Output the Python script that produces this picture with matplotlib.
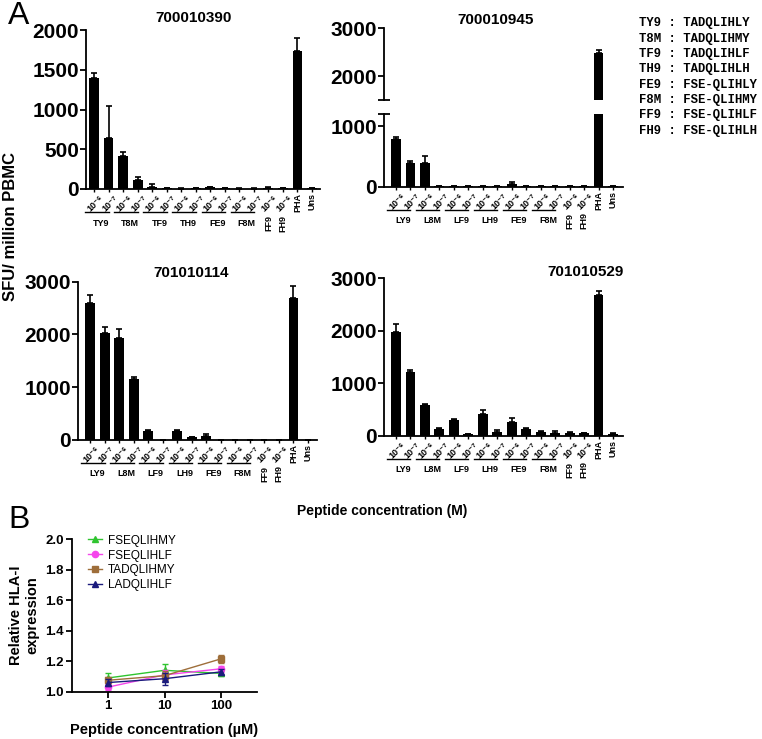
import numpy as np
import matplotlib.pyplot as plt
from matplotlib import transforms

plt.rcParams['font.family'] = ['Liberation Sans', 'DejaVu Sans']
plt.rcParams['font.weight'] = 'bold'
plt.rcParams['axes.labelweight'] = 'bold'

W, H = 762, 739

# etiquetas
conc = ['10⁻⁶', '10⁻⁷']
grupos_t = ['TY9', 'T8M', 'TF9', 'TH9', 'FE9', 'F8M']
grupos_l = ['LY9', 'L8M', 'LF9', 'LH9', 'FE9', 'F8M']
simples = ['FF9', 'FH9']
controles = ['PHA', 'Uns']

# SFU / million PBMC (16 barras: 6 pares, FF9, FH9, PHA, Uns)
p390 = [1390, 645, 420, 110, 25, 10, 5, 10, 20, 10, 5, 5, 15, 10, 1730, 10]
p390_err = [65, 400, 45, 45, 35, 5, 5, 8, 10, 5, 5, 5, 10, 5, 165, 5]
p945 = [785, 395, 395, 10, 10, 5, 10, 10, 40, 10, 5, 5, 5, 10, 2480, 5]
p945_err = [35, 25, 110, 5, 5, 3, 5, 5, 40, 5, 3, 3, 3, 5, 60, 3]
p114 = [2590, 2020, 1930, 1150, 165, 5, 170, 50, 70, 3, 3, 3, 3, 5, 2700, 3]
p114_err = [160, 130, 180, 45, 18, 3, 18, 5, 38, 2, 2, 2, 2, 3, 225, 2]
p529 = [1970, 1210, 590, 120, 305, 25, 413, 70, 254, 133, 70, 57, 51, 45, 2683, 32]
p529_err = [160, 45, 20, 32, 13, 5, 70, 32, 76, 13, 13, 26, 13, 12, 82, 13]

# clave de peptidos
codigos = ['TY9', 'T8M', 'TF9', 'TH9', 'FE9', 'F8M', 'FF9', 'FH9']
secuencias = ['TADQLIHLY', 'TADQLIHMY', 'TADQLIHLF', 'TADQLIHLH',
              'FSE-QLIHLY', 'FSE-QLIHMY', 'FSE-QLIHLF', 'FSE-QLIHLH']

# panel B
dosis = [1, 10, 100]
nombres_b = ['FSEQLIHMY', 'FSEQLIHLF', 'TADQLIHMY', 'LADQLIHLF']
hla = [[1.09, 1.14, 1.12],
       [1.03, 1.11, 1.15],
       [1.075, 1.105, 1.215],
       [1.06, 1.085, 1.13]]
hla_err = [[0.03, 0.04, 0.015],
           [0.02, 0.03, 0.02],
           [0.02, 0.03, 0.025],
           [0.02, 0.04, 0.02]]
colores_b = ['#2fc42f', '#f545ec', '#9e6e3a', '#1b1b7d']
marcas_b = ['^', 'o', 's', '^']

fig = plt.figure(figsize=(W / 100, H / 100), dpi=100)


def px_axes(left, right, top, bottom):
    return fig.add_axes([left / W, 1 - bottom / H, (right - left) / W, (bottom - top) / H])


def estilo(ax, ysize=15):
    for s in ['top', 'right']:
        ax.spines[s].set_visible(False)
    for s in ['left', 'bottom']:
        ax.spines[s].set_linewidth(1.3)
    ax.tick_params(axis='y', length=4, width=1.3, labelsize=ysize, pad=1)
    ax.tick_params(axis='x', length=2.5, width=1.0, labelbottom=False)


def barras(ax, vals, errs, xlim):
    x = np.arange(len(vals))
    ax.bar(x, vals, width=0.68, color='black')
    ax.errorbar(x, vals, yerr=[np.zeros(len(vals)), errs], fmt='none', ecolor='black',
                elinewidth=1.2, capsize=2.3, capthick=1.2)
    ax.set_xlim(*xlim)
    ax.set_xticks(x)


def etiquetas(ax, grupos):
    def tr(dx, dy):
        return transforms.offset_copy(ax.get_xaxis_transform(), fig=fig, x=dx, y=dy, units='dots')
    k = 0
    for g in grupos:
        for j in range(2):
            ax.text(k + j, 0, conc[j], transform=tr(5, -5), rotation=45, ha='right', va='top',
                    rotation_mode='anchor', fontsize=6.5)
        ax.plot([k - 0.6, k + 1.0], [0, 0], color='black', lw=1.0, clip_on=False, transform=tr(0, -23))
        ax.text(k + 0.5, 0, g, transform=tr(0, -34), ha='center', va='center', fontsize=6.5)
        k += 2
    for g in simples:
        ax.text(k, 0, conc[0], transform=tr(5, -5), rotation=45, ha='right', va='top',
                rotation_mode='anchor', fontsize=6.5)
        ax.text(k, 0, g, transform=tr(0, -34), rotation=90, ha='center', va='center', fontsize=6.5)
        k += 1
    for g in controles:
        ax.text(k, 0, g, transform=tr(0, -4), rotation=90, ha='center', va='top', fontsize=6.5)
        k += 1


# panel 700010390
ax1 = px_axes(86, 320, 30, 189)
barras(ax1, p390, p390_err, (-0.55, 15.55))
ax1.set_ylim(0, 2000)
ax1.set_yticks([0, 500, 1000, 1500, 2000])
estilo(ax1)
etiquetas(ax1, grupos_t)
fig.text(194 / W, 1 - 18 / H, '700010390', ha='center', va='center', fontsize=11)

# panel 700010945 (eje cortado)
ax2a = px_axes(384, 623, 28, 100)
ax2b = px_axes(384, 623, 114, 186.7)
barras(ax2a, p945, p945_err, (-0.83, 15.69))
barras(ax2b, p945, p945_err, (-0.83, 15.69))
ax2a.set_ylim(1500, 3000)
ax2a.set_yticks([2000, 3000])
ax2b.set_ylim(0, 1200)
ax2b.set_yticks([0, 1000])
estilo(ax2a)
estilo(ax2b)
ax2a.spines['bottom'].set_visible(False)
ax2a.tick_params(axis='x', length=0)
ax2a.set_yticks([1500], minor=True)
ax2b.set_yticks([1200], minor=True)
for a in (ax2a, ax2b):
    a.tick_params(axis='y', which='minor', length=9, width=1.3, direction='inout')
etiquetas(ax2b, grupos_l)
fig.text(496 / W, 1 - 20 / H, '700010945', ha='center', va='center', fontsize=11)

# panel 701010114
ax3 = px_axes(78, 317, 281.7, 440)
barras(ax3, p114, p114_err, (-0.83, 15.62))
ax3.set_ylim(0, 3000)
ax3.set_yticks([0, 1000, 2000, 3000])
estilo(ax3)
etiquetas(ax3, grupos_l)
fig.text(191 / W, 1 - 273 / H, '701010114', ha='center', va='center', fontsize=11)

# panel 701010529
ax4 = px_axes(384, 623, 278.3, 435.7)
barras(ax4, p529, p529_err, (-0.83, 15.69))
ax4.set_ylim(0, 3000)
ax4.set_yticks([0, 1000, 2000, 3000])
estilo(ax4)
etiquetas(ax4, grupos_l)
fig.text(586 / W, 1 - 272 / H, '701010529', ha='center', va='center', fontsize=11)

# clave a la derecha
for i, (c, s) in enumerate(zip(codigos, secuencias)):
    fig.text(639 / W, 1 - (23.3 + 15.35 * i) / H, c + ' : ' + s, family='Liberation Mono',
             fontsize=8.8, ha='left', va='center')

fig.text(11 / W, 1 - 226 / H, 'SFU/ million PBMC', rotation=90, ha='center', va='center', fontsize=12)
fig.text(382 / W, 1 - 511 / H, 'Peptide concentration (M)', ha='center', va='center', fontsize=10)
fig.text(8 / W, 1 - 16 / H, 'A', fontsize=23, weight='normal', va='center')
fig.text(8 / W, 1 - 520 / H, 'B', fontsize=23, weight='normal', va='center')

# panel B
axB = px_axes(72, 257, 539, 691.7)
for y, e, c, m, n in zip(hla, hla_err, colores_b, marcas_b, nombres_b):
    axB.errorbar(dosis, y, yerr=e, color=c, fmt='none', elinewidth=1.0, capsize=2)
    axB.plot(dosis, y, color=c, marker=m, markersize=4.5, lw=1.0, label=n)
axB.set_xscale('log')
axB.set_xlim(10 ** -0.64, 10 ** 2.64)
axB.set_ylim(1.0, 2.0)
axB.set_xticks(dosis)
axB.set_xticklabels(['1', '10', '100'])
axB.minorticks_off()
axB.set_yticks(np.arange(1.0, 2.01, 0.2))
axB.set_yticklabels(['%.1f' % v for v in np.arange(1.0, 2.01, 0.2)])
for s in ['top', 'right']:
    axB.spines[s].set_visible(False)
for s in ['left', 'bottom']:
    axB.spines[s].set_linewidth(1.3)
axB.tick_params(length=4, width=1.3, labelsize=9.5, pad=2)
axB.set_ylabel('Relative HLA-I\nexpression', fontsize=10.5, fontweight='bold', labelpad=4)
axB.set_xlabel('Peptide concentration (µM)', fontsize=10.5, fontweight='bold', labelpad=8)
axB.legend(loc='upper left', bbox_to_anchor=(0.06, 1.06), frameon=False, handlelength=1.2,
           handletextpad=0.5, labelspacing=0.25, borderaxespad=0,
           prop={'weight': 'normal', 'size': 8.5})

fig.savefig('out.png', dpi=100)
